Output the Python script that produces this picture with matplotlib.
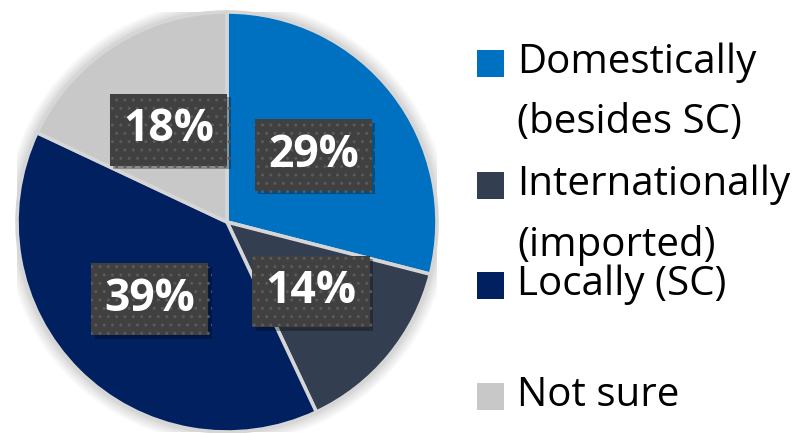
import matplotlib.pyplot as plt
import matplotlib.patheffects as pe
from matplotlib.patches import Rectangle, Circle

# Where respondents' purchases come from
categories = ['Domestically\n(besides SC)', 'Internationally\n(imported)', 'Locally (SC)', 'Not sure']
shares = [29, 14, 39, 18]
colors = ['#0070C0', '#333F50', '#002060', '#C8C8C8']

W, H, DPI = 806, 433, 100
fig = plt.figure(figsize=(W / DPI, H / DPI), dpi=DPI)

# Pie axes: centre at (227, 222) px from top-left, radius 210 px
cx, cy, r = 227, 222, 210
ax = fig.add_axes([(cx - r) / W, (H - cy - r) / H, 2 * r / W, 2 * r / H])

# soft halo round the pie
for i in range(8):
    ax.add_patch(Circle((0, 0), 1.0 + 0.007 * (i + 1), color='#000000',
                        alpha=0.02, lw=0, zorder=0))

wedges, texts, autotexts = ax.pie(
    shares, colors=colors, startangle=90, counterclock=False,
    radius=1.0, autopct=lambda p: f'{p:.0f}%', pctdistance=0.52,
    wedgeprops=dict(edgecolor='#D6D6D6', linewidth=2.6),
    textprops=dict(color='white', fontsize=32, fontweight='bold',
                   family=['Open Sans', 'DejaVu Sans']),
)
for t in autotexts:
    t.set_bbox(dict(boxstyle='square,pad=0.3', facecolor='#404040',
                    edgecolor='#5A5A5A', linewidth=0, hatch='..'))
    t.get_bbox_patch().set_path_effects([
        pe.SimplePatchShadow(offset=(2.5, -2.5), shadow_rgbFace='black', alpha=0.3),
        pe.Normal(),
    ])
ax.set_xlim(-1, 1)
ax.set_ylim(-1, 1)
ax.set_aspect('equal')
ax.axis('off')

# Legend drawn by hand so the line spacing follows the slide layout
legend_rows = [63, 185, 285, 396]   # square centres, px from top
sq = 27
for lab, col, yc in zip(categories, colors, legend_rows):
    fig.patches.append(Rectangle((477 / W, (H - yc - sq / 2) / H), sq / W, sq / H,
                                 transform=fig.transFigure, facecolor=col,
                                 edgecolor='none'))
    lines = lab.split('\n')
    for k, line in enumerate(lines):
        fig.text(517 / W, (H - yc - 60 * k) / H, line, ha='left', va='center',
                 fontsize=29, color='black', family=['Open Sans', 'DejaVu Sans'])

fig.savefig('out.png', dpi=DPI)
